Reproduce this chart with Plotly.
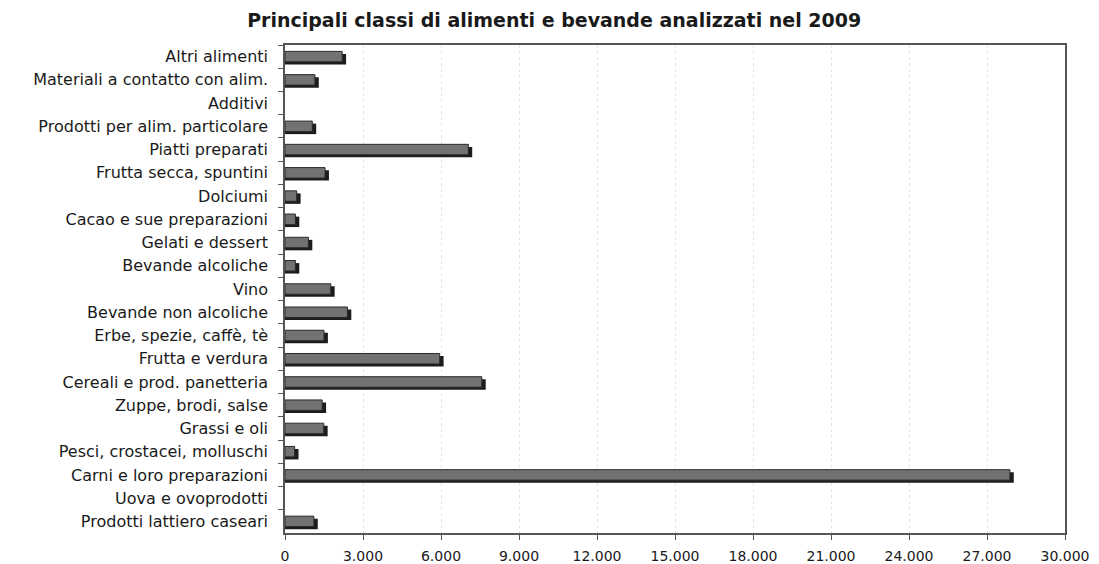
import plotly.graph_objects as go

categories = [
    "Altri alimenti",
    "Materiali a contatto con alim.",
    "Additivi",
    "Prodotti per alim. particolare",
    "Piatti preparati",
    "Frutta secca, spuntini",
    "Dolciumi",
    "Cacao e sue preparazioni",
    "Gelati e dessert",
    "Bevande alcoliche",
    "Vino",
    "Bevande non alcoliche",
    "Erbe, spezie, caffè, tè",
    "Frutta e verdura",
    "Cereali e prod. panetteria",
    "Zuppe, brodi, salse",
    "Grassi e oli",
    "Pesci, crostacei, molluschi",
    "Carni e loro preparazioni",
    "Uova e ovoprodotti",
    "Prodotti lattiero caseari",
]

values = [2200, 1150, 0, 1050, 7050, 1540, 450, 400, 900, 400, 1760,
          2400, 1500, 5950, 7570, 1430, 1490, 370, 27880, 0, 1110]

tick_values = [0, 3000, 6000, 9000, 12000, 15000, 18000, 21000, 24000, 27000, 30000]

title_text = "Principali classi di alimenti e bevande analizzati nel 2009"

# shadow (3D-look) extends a few px past each non-empty bar
shadow_extra = 150
shadow_values = [v + shadow_extra if v > 0 else 0 for v in values]
face_line_widths = [1 if v > 0 else 0 for v in values]

bar_w = 0.45

fig = go.Figure()
fig.add_trace(go.Bar(
    y=categories, x=shadow_values, orientation="h",
    width=bar_w, offset=-bar_w / 2 + 0.11,
    marker=dict(color="#1c1c1c", line=dict(width=0)),
    hoverinfo="skip", showlegend=False,
))
fig.add_trace(go.Bar(
    y=categories, x=values, orientation="h",
    width=bar_w, offset=-bar_w / 2,
    marker=dict(color="#727272", line=dict(color="#2a2a2a", width=face_line_widths)),
    showlegend=False,
))

fig.update_layout(
    width=1099, height=564,
    barmode="overlay",
    separators=",.",
    paper_bgcolor="white", plot_bgcolor="white",
    margin=dict(l=277, r=42, t=37, b=39),
    title=dict(text=title_text, x=0.497, xanchor="center", y=0.978, yanchor="middle",
               font=dict(family="DejaVu Sans", size=19, color="#1a1a1a", weight="bold")),
    font=dict(family="DejaVu Sans", color="#1a1a1a"),
)

fig.update_xaxes(
    range=[0, 30000], tickvals=tick_values, tickformat=",d",
    showgrid=True, gridcolor="#e4e4e4", griddash="dot", gridwidth=1,
    showline=True, linecolor="#555555", linewidth=1.5, mirror=True,
    ticks="outside", ticklen=5, tickcolor="#555555",
    ticklabelstandoff=4, automargin=False,
    tickfont=dict(size=14, color="#1a1a1a"), zeroline=False,
)
fig.update_yaxes(
    categoryorder="array", categoryarray=categories, autorange="reversed",
    showline=True, linecolor="#555555", linewidth=1.5, mirror=True,
    ticks="outside", ticklen=5, tickcolor="#555555", tickson="boundaries",
    ticklabelstandoff=12, automargin=False,
    tickfont=dict(size=16, color="#1a1a1a"), showgrid=False,
)

fig.write_html("out.html")
